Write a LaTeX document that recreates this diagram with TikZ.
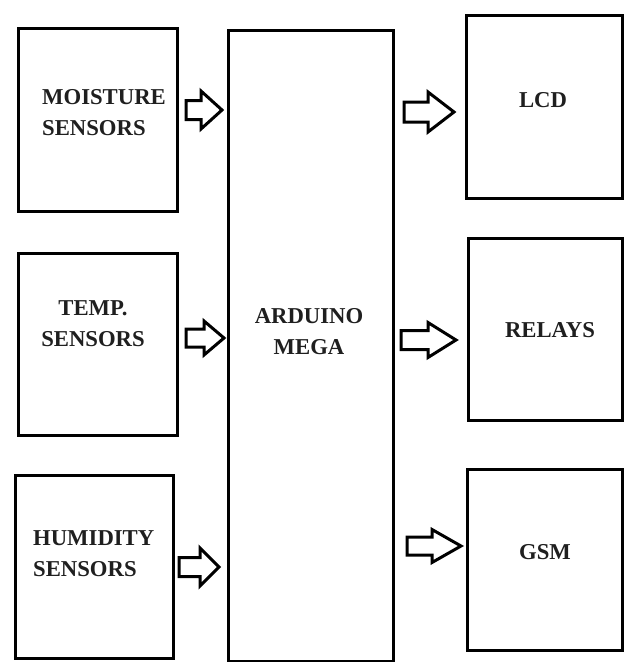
\documentclass[tikz,border=0pt]{standalone}
\usepackage{fontspec}
\setmainfont{Liberation Serif}
\newcommand\blkarrow[6]{% x0, x1 (tip), xb (head base), y, shaft half, head half
  \draw[barrow] (#1,#4-#5) -- (#3,#4-#5) -- (#3,#4-#6) -- (#2,#4) -- (#3,#4+#6) -- (#3,#4+#5) -- (#1,#4+#5) -- cycle;}
\begin{document}
\begin{tikzpicture}[x=1pt,y=-1pt,
  box/.style={draw=black,line width=3pt,inner sep=0pt,outer sep=0pt},
  lbl/.style={font=\fontsize{22.7}{31}\selectfont\bfseries,inner sep=0pt,text=black!88},
  barrow/.style={draw=black,line width=3pt,line join=miter,fill=white}]
\useasboundingbox[fill=white] (0,0) rectangle (624,662);
% boxes
\node[box,minimum width=159pt,minimum height=183pt] (moist) at (97.5,119.5) {};
\node[box,minimum width=159pt,minimum height=182pt] (temp) at (97.5,344) {};
\node[box,minimum width=158pt,minimum height=183pt] (humid) at (94,566.5) {};
\node[box,minimum width=165pt,minimum height=631pt] (mega) at (310.5,345.5) {};
\node[box,minimum width=156pt,minimum height=183pt] (lcd) at (544,106.5) {};
\node[box,minimum width=154pt,minimum height=182pt] (relay) at (545,329) {};
\node[box,minimum width=155pt,minimum height=181pt] (gsm) at (544.5,559.5) {};
% labels
\node[lbl,align=left,anchor=west] (tmoist) at (42,113) {MOISTURE\\SENSORS};
\node[lbl,align=center] (ttemp) at (93,324) {TEMP.\\SENSORS};
\node[lbl,align=left,anchor=west] (thumid) at (33,554) {HUMIDITY\\SENSORS};
\node[lbl,align=center] (tmega) at (309,332) {ARDUINO\\MEGA};
\node[lbl] (tlcd) at (543,100) {LCD};
\node[lbl] (trelay) at (550,330) {RELAYS};
\node[lbl] (tgsm) at (545,552) {GSM};
% block arrows
\blkarrow{186}{222}{201}{110}{9.5}{19}
\blkarrow{186}{224}{204}{338}{9}{17}
\blkarrow{179}{219}{200}{567}{9.5}{19}
\blkarrow{404}{454}{428}{112}{10}{20}
\blkarrow{401}{456}{428}{340}{9.5}{17.5}
\blkarrow{407}{461}{432}{546}{9}{16.5}
\end{tikzpicture}
\end{document}
